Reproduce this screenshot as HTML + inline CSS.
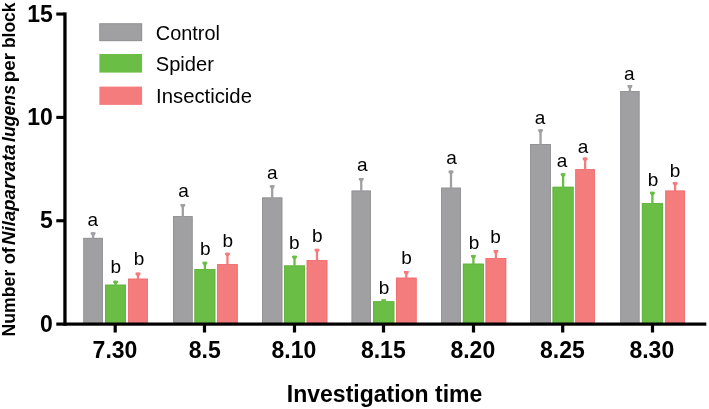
<!DOCTYPE html>
<html><head><meta charset="utf-8"><title>Chart</title>
<style>
html,body{margin:0;padding:0;background:#fff}
svg text{font-family:"Liberation Sans",Arial,Helvetica,sans-serif;fill:#000}
svg text.b{font-weight:bold;font-size:23px}
svg text.r{font-size:19px}
</style></head><body>
<svg width="709" height="409" viewBox="0 0 709 409" style="display:block">
<rect width="709" height="409" fill="#fff"/>
<rect x="83.4" y="237.9" width="19.4" height="86.2" fill="#a0a0a3"/>
<rect x="83.8" y="238.3" width="18.6" height="86.2" fill="none" stroke="#8f8f93" stroke-width="0.8"/>
<rect x="91.95" y="232.3" width="2.3" height="6.1" fill="#a0a0a3"/>
<path d="M90.70 232.3h4.8v1.8l-1.3 1.6h-2.2l-1.3-1.6z" fill="#a0a0a3"/>
<rect x="105.1" y="284.7" width="20.9" height="39.4" fill="#6abd45"/>
<rect x="105.5" y="285.1" width="20.1" height="39.4" fill="none" stroke="#60b43c" stroke-width="0.8"/>
<rect x="114.40" y="280.7" width="2.3" height="4.5" fill="#6abd45"/>
<path d="M113.15 280.7h4.8v1.8l-1.3 1.6h-2.2l-1.3-1.6z" fill="#6abd45"/>
<rect x="128.1" y="278.7" width="19.8" height="45.4" fill="#f47c7c"/>
<rect x="128.5" y="279.1" width="19.0" height="45.4" fill="none" stroke="#f06e6e" stroke-width="0.8"/>
<rect x="136.85" y="272.6" width="2.3" height="6.6" fill="#f47c7c"/>
<path d="M135.60 272.6h4.8v1.8l-1.3 1.6h-2.2l-1.3-1.6z" fill="#f47c7c"/>
<text x="92.9" y="225.7" class="r" text-anchor="middle">a</text>
<text x="115.7" y="273.0" class="r" text-anchor="middle">b</text>
<text x="139.0" y="265.0" class="r" text-anchor="middle">b</text>
<rect x="113.6" y="324" width="3.2" height="8.5" fill="#000"/>
<text x="115.0" y="357.5" class="b" text-anchor="middle">7.30</text>
<rect x="173.0" y="216.2" width="19.6" height="107.9" fill="#a0a0a3"/>
<rect x="173.4" y="216.6" width="18.8" height="107.9" fill="none" stroke="#8f8f93" stroke-width="0.8"/>
<rect x="181.65" y="204.0" width="2.3" height="12.7" fill="#a0a0a3"/>
<path d="M180.40 204.0h4.8v1.8l-1.3 1.6h-2.2l-1.3-1.6z" fill="#a0a0a3"/>
<rect x="194.5" y="269.1" width="20.8" height="55.0" fill="#6abd45"/>
<rect x="194.9" y="269.5" width="20.0" height="55.0" fill="none" stroke="#60b43c" stroke-width="0.8"/>
<rect x="203.75" y="261.8" width="2.3" height="7.8" fill="#6abd45"/>
<path d="M202.50 261.8h4.8v1.8l-1.3 1.6h-2.2l-1.3-1.6z" fill="#6abd45"/>
<rect x="217.2" y="264.2" width="20.5" height="59.9" fill="#f47c7c"/>
<rect x="217.6" y="264.6" width="19.7" height="59.9" fill="none" stroke="#f06e6e" stroke-width="0.8"/>
<rect x="226.30" y="252.7" width="2.3" height="12.0" fill="#f47c7c"/>
<path d="M225.05 252.7h4.8v1.8l-1.3 1.6h-2.2l-1.3-1.6z" fill="#f47c7c"/>
<text x="183.5" y="197.2" class="r" text-anchor="middle">a</text>
<text x="205.2" y="255.0" class="r" text-anchor="middle">b</text>
<text x="227.7" y="246.6" class="r" text-anchor="middle">b</text>
<rect x="202.9" y="324" width="3.2" height="8.5" fill="#000"/>
<text x="204.7" y="357.5" class="b" text-anchor="middle">8.5</text>
<rect x="262.1" y="197.5" width="20.2" height="126.6" fill="#a0a0a3"/>
<rect x="262.5" y="197.9" width="19.4" height="126.6" fill="none" stroke="#8f8f93" stroke-width="0.8"/>
<rect x="271.05" y="185.2" width="2.3" height="12.8" fill="#a0a0a3"/>
<path d="M269.80 185.2h4.8v1.8l-1.3 1.6h-2.2l-1.3-1.6z" fill="#a0a0a3"/>
<rect x="284.0" y="265.5" width="21.0" height="58.6" fill="#6abd45"/>
<rect x="284.4" y="265.9" width="20.2" height="58.6" fill="none" stroke="#60b43c" stroke-width="0.8"/>
<rect x="293.35" y="255.7" width="2.3" height="10.3" fill="#6abd45"/>
<path d="M292.10 255.7h4.8v1.8l-1.3 1.6h-2.2l-1.3-1.6z" fill="#6abd45"/>
<rect x="306.7" y="260.1" width="20.6" height="64.0" fill="#f47c7c"/>
<rect x="307.1" y="260.5" width="19.8" height="64.0" fill="none" stroke="#f06e6e" stroke-width="0.8"/>
<rect x="315.85" y="248.8" width="2.3" height="11.8" fill="#f47c7c"/>
<path d="M314.60 248.8h4.8v1.8l-1.3 1.6h-2.2l-1.3-1.6z" fill="#f47c7c"/>
<text x="272.2" y="178.6" class="r" text-anchor="middle">a</text>
<text x="294.2" y="249.4" class="r" text-anchor="middle">b</text>
<text x="317.2" y="241.8" class="r" text-anchor="middle">b</text>
<rect x="292.9" y="324" width="3.2" height="8.5" fill="#000"/>
<text x="293.9" y="357.5" class="b" text-anchor="middle">8.10</text>
<rect x="351.6" y="190.6" width="19.3" height="133.5" fill="#a0a0a3"/>
<rect x="352.0" y="191.0" width="18.5" height="133.5" fill="none" stroke="#8f8f93" stroke-width="0.8"/>
<rect x="360.10" y="177.9" width="2.3" height="13.2" fill="#a0a0a3"/>
<path d="M358.85 177.9h4.8v1.8l-1.3 1.6h-2.2l-1.3-1.6z" fill="#a0a0a3"/>
<rect x="373.0" y="301.3" width="21.3" height="22.8" fill="#6abd45"/>
<rect x="373.4" y="301.7" width="20.5" height="22.8" fill="none" stroke="#60b43c" stroke-width="0.8"/>
<rect x="382.50" y="299.3" width="2.3" height="2.5" fill="#6abd45"/>
<path d="M381.25 299.3h4.8v1.8l-1.3 1.6h-2.2l-1.3-1.6z" fill="#6abd45"/>
<rect x="396.0" y="277.7" width="20.6" height="46.4" fill="#f47c7c"/>
<rect x="396.4" y="278.1" width="19.8" height="46.4" fill="none" stroke="#f06e6e" stroke-width="0.8"/>
<rect x="405.15" y="271.1" width="2.3" height="7.1" fill="#f47c7c"/>
<path d="M403.90 271.1h4.8v1.8l-1.3 1.6h-2.2l-1.3-1.6z" fill="#f47c7c"/>
<text x="362.3" y="171.3" class="r" text-anchor="middle">a</text>
<text x="384.0" y="293.9" class="r" text-anchor="middle">b</text>
<text x="406.5" y="264.4" class="r" text-anchor="middle">b</text>
<rect x="381.9" y="324" width="3.2" height="8.5" fill="#000"/>
<text x="383.3" y="357.5" class="b" text-anchor="middle">8.15</text>
<rect x="441.1" y="187.7" width="19.8" height="136.4" fill="#a0a0a3"/>
<rect x="441.5" y="188.1" width="19.0" height="136.4" fill="none" stroke="#8f8f93" stroke-width="0.8"/>
<rect x="449.85" y="170.6" width="2.3" height="17.6" fill="#a0a0a3"/>
<path d="M448.60 170.6h4.8v1.8l-1.3 1.6h-2.2l-1.3-1.6z" fill="#a0a0a3"/>
<rect x="462.9" y="263.7" width="21.0" height="60.4" fill="#6abd45"/>
<rect x="463.3" y="264.1" width="20.2" height="60.4" fill="none" stroke="#60b43c" stroke-width="0.8"/>
<rect x="472.25" y="254.9" width="2.3" height="9.3" fill="#6abd45"/>
<path d="M471.00 254.9h4.8v1.8l-1.3 1.6h-2.2l-1.3-1.6z" fill="#6abd45"/>
<rect x="485.6" y="258.1" width="20.6" height="66.0" fill="#f47c7c"/>
<rect x="486.0" y="258.5" width="19.8" height="66.0" fill="none" stroke="#f06e6e" stroke-width="0.8"/>
<rect x="494.75" y="250.0" width="2.3" height="8.6" fill="#f47c7c"/>
<path d="M493.50 250.0h4.8v1.8l-1.3 1.6h-2.2l-1.3-1.6z" fill="#f47c7c"/>
<text x="451.5" y="163.5" class="r" text-anchor="middle">a</text>
<text x="474.0" y="249.0" class="r" text-anchor="middle">b</text>
<text x="495.6" y="242.8" class="r" text-anchor="middle">b</text>
<rect x="471.9" y="324" width="3.2" height="8.5" fill="#000"/>
<text x="472.8" y="357.5" class="b" text-anchor="middle">8.20</text>
<rect x="530.2" y="144.0" width="20.7" height="180.1" fill="#a0a0a3"/>
<rect x="530.6" y="144.4" width="19.9" height="180.1" fill="none" stroke="#8f8f93" stroke-width="0.8"/>
<rect x="539.40" y="129.3" width="2.3" height="15.2" fill="#a0a0a3"/>
<path d="M538.15 129.3h4.8v1.8l-1.3 1.6h-2.2l-1.3-1.6z" fill="#a0a0a3"/>
<rect x="552.6" y="186.8" width="21.0" height="137.3" fill="#6abd45"/>
<rect x="553.0" y="187.2" width="20.2" height="137.3" fill="none" stroke="#60b43c" stroke-width="0.8"/>
<rect x="561.95" y="173.3" width="2.3" height="14.0" fill="#6abd45"/>
<path d="M560.70 173.3h4.8v1.8l-1.3 1.6h-2.2l-1.3-1.6z" fill="#6abd45"/>
<rect x="575.3" y="169.2" width="19.6" height="154.9" fill="#f47c7c"/>
<rect x="575.7" y="169.6" width="18.8" height="154.9" fill="none" stroke="#f06e6e" stroke-width="0.8"/>
<rect x="583.95" y="157.5" width="2.3" height="12.2" fill="#f47c7c"/>
<path d="M582.70 157.5h4.8v1.8l-1.3 1.6h-2.2l-1.3-1.6z" fill="#f47c7c"/>
<text x="540.0" y="124.0" class="r" text-anchor="middle">a</text>
<text x="562.0" y="166.7" class="r" text-anchor="middle">a</text>
<text x="583.0" y="153.0" class="r" text-anchor="middle">a</text>
<rect x="561.1" y="324" width="3.2" height="8.5" fill="#000"/>
<text x="562.4" y="357.5" class="b" text-anchor="middle">8.25</text>
<rect x="620.3" y="91.1" width="19.2" height="233.0" fill="#a0a0a3"/>
<rect x="620.7" y="91.5" width="18.4" height="233.0" fill="none" stroke="#8f8f93" stroke-width="0.8"/>
<rect x="628.75" y="85.0" width="2.3" height="6.6" fill="#a0a0a3"/>
<path d="M627.50 85.0h4.8v1.8l-1.3 1.6h-2.2l-1.3-1.6z" fill="#a0a0a3"/>
<rect x="641.9" y="203.1" width="21.0" height="121.0" fill="#6abd45"/>
<rect x="642.3" y="203.5" width="20.2" height="121.0" fill="none" stroke="#60b43c" stroke-width="0.8"/>
<rect x="651.25" y="191.8" width="2.3" height="11.8" fill="#6abd45"/>
<path d="M650.00 191.8h4.8v1.8l-1.3 1.6h-2.2l-1.3-1.6z" fill="#6abd45"/>
<rect x="665.3" y="190.6" width="19.6" height="133.5" fill="#f47c7c"/>
<rect x="665.7" y="191.0" width="18.8" height="133.5" fill="none" stroke="#f06e6e" stroke-width="0.8"/>
<rect x="673.95" y="182.0" width="2.3" height="9.1" fill="#f47c7c"/>
<path d="M672.70 182.0h4.8v1.8l-1.3 1.6h-2.2l-1.3-1.6z" fill="#f47c7c"/>
<text x="629.3" y="79.8" class="r" text-anchor="middle">a</text>
<text x="653.0" y="186.0" class="r" text-anchor="middle">b</text>
<text x="675.0" y="177.2" class="r" text-anchor="middle">b</text>
<rect x="650.9" y="324" width="3.2" height="8.5" fill="#000"/>
<text x="651.8" y="357.5" class="b" text-anchor="middle">8.30</text>
<rect x="63.3" y="12.4" width="3.3" height="313.3" fill="#000"/>
<rect x="56.3" y="322.5" width="650" height="3.2" fill="#000"/>
<rect x="56.3" y="219.20" width="8" height="3.1" fill="#000"/>
<rect x="56.3" y="115.85" width="8" height="3.1" fill="#000"/>
<rect x="56.3" y="12.50" width="8" height="3.1" fill="#000"/>
<text x="52.8" y="331.7" class="b" text-anchor="end" style="font-size:23px">0</text>
<text x="52.8" y="228.3" class="b" text-anchor="end" style="font-size:23px">5</text>
<text x="52.8" y="125.0" class="b" text-anchor="end" style="font-size:23px">10</text>
<text x="52.8" y="21.7" class="b" text-anchor="end" style="font-size:23px">15</text>
<rect x="99.4" y="23.4" width="42.7" height="17.7" fill="#a0a0a3"/>
<rect x="99.8" y="23.8" width="41.9" height="16.9" fill="none" stroke="#8f8f93" stroke-width="0.8"/>
<text x="155.8" y="39.7" class="r" style="font-size:19.9px">Control</text>
<rect x="99.4" y="54.0" width="42.7" height="18.6" fill="#6abd45"/>
<text x="155.8" y="70.6" class="r" style="font-size:20.1px">Spider</text>
<rect x="99.4" y="86.6" width="42.7" height="18.3" fill="#f47c7c"/>
<text x="156.1" y="102.9" class="r" style="font-size:20.3px">Insecticide</text>
<text x="384.6" y="402.2" class="b" text-anchor="middle" style="font-size:23px">Investigation time</text>
<text transform="translate(15.2,336.5) rotate(-90)" class="b" style="font-size:17.5px" textLength="66.8" lengthAdjust="spacingAndGlyphs">Number</text>
<text transform="translate(15.2,264.3) rotate(-90)" class="b" style="font-size:17.5px" textLength="17.2" lengthAdjust="spacingAndGlyphs">of</text>
<text transform="translate(15.2,244.9) rotate(-90)" class="b" style="font-size:17.5px" font-style="italic" textLength="100.4" lengthAdjust="spacingAndGlyphs">Nilaparvata</text>
<text transform="translate(15.2,142.0) rotate(-90)" class="b" style="font-size:17.5px" font-style="italic" textLength="57.0" lengthAdjust="spacingAndGlyphs">lugens</text>
<text transform="translate(15.2,82.2) rotate(-90)" class="b" style="font-size:17.5px" textLength="29.3" lengthAdjust="spacingAndGlyphs">per</text>
<text transform="translate(15.2,48.1) rotate(-90)" class="b" style="font-size:17.5px" textLength="45.6" lengthAdjust="spacingAndGlyphs">block</text>
</svg>
</body></html>
